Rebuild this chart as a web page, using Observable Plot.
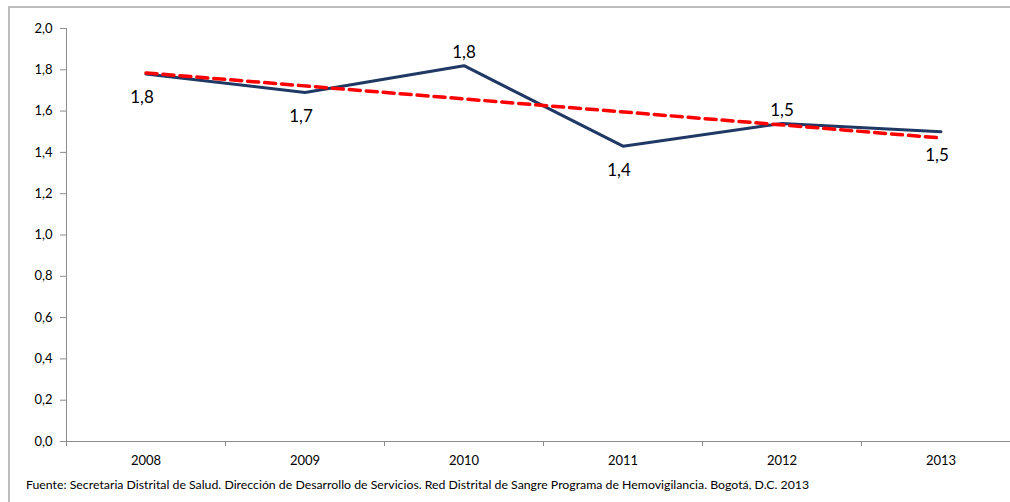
<!DOCTYPE html>
<html>
<head>
<meta charset="utf-8">
<script src="https://cdn.jsdelivr.net/npm/d3@7"></script>
<script src="https://cdn.jsdelivr.net/npm/@observablehq/plot@0.6"></script>
<style>
  html, body { margin: 0; padding: 0; background: #fff; overflow: hidden; }
  #wrap { position: relative; width: 1010px; height: 502px; overflow: hidden; font-family: Lato, "Open Sans", sans-serif; }
  #frame { position: absolute; left: 8px; top: 6px; width: 1100px; height: 600px; border: 2px solid #bdbdbd; box-sizing: border-box; pointer-events: none; }
  #chart { position: absolute; left: 0; top: 0; }
  #caption { position: absolute; left: 26px; top: 477px; font-size: 12.3px; color: #000; white-space: nowrap; }
</style>
</head>
<body>
<div id="wrap">
  <div id="chart"></div>
  <div id="caption"></div>
  <div id="frame"></div>
</div>
<script>
// Data
const years = [2008, 2009, 2010, 2011, 2012, 2013];
const values = [1.78, 1.69, 1.82, 1.43, 1.54, 1.50];
const trendYears = [2008, 2013];
const trendValues = [1.785, 1.47];
const yTicks = [0, 0.2, 0.4, 0.6, 0.8, 1.0, 1.2, 1.4, 1.6, 1.8, 2.0];
const boundaryTicks = [2007.5, 2008.5, 2009.5, 2010.5, 2011.5, 2012.5, 2013.5];
const captionText = "Fuente: Secretaria Distrital de Salud. Dirección de Desarrollo de Servicios. Red Distrital de Sangre Programa de Hemovigilancia. Bogotá, D.C. 2013";

const series = years.map((y, i) => ({year: y, value: values[i]}));
const trend = trendYears.map((y, i) => ({year: y, value: trendValues[i]}));
const comma = d => d.toFixed(1).replace(".", ",");

// label above interior local maxima, below otherwise
const isPeak = (i) => i > 0 && i < values.length - 1 && values[i] > values[i - 1] && values[i] > values[i + 1];
const above = series.filter((d, i) => isPeak(i));
const below = series.filter((d, i) => !isPeak(i));

const gray = "#8c8c8c";

const chart = Plot.plot({
  width: 1010,
  height: 470,
  marginTop: 28,
  marginBottom: 29,
  marginLeft: 66,
  marginRight: 0,
  style: {background: "transparent", fontFamily: "Lato, 'Open Sans', sans-serif", overflow: "hidden"},
  x: {type: "linear", domain: [2007.5, 2013.5], range: [66, 1020]},
  y: {domain: [0, 2.0]},
  marks: [
    Plot.axisY({ticks: yTicks, tickFormat: comma, tickSize: 6, tickPadding: 8, stroke: gray, fontSize: 13, color: "#000", label: null}),
    Plot.ruleX([2007.5], {y1: 0, y2: 2.0, stroke: gray, strokeWidth: 1}),
    Plot.axisX({ticks: boundaryTicks, tickSize: 5, tickFormat: () => "", stroke: gray, label: null}),
    Plot.axisX({ticks: years, tickSize: 0, tickPadding: 14, tickFormat: d => String(d), fontSize: 13, label: null}),
    Plot.ruleY([0], {stroke: gray, strokeWidth: 1}),
    Plot.line(series, {x: "year", y: "value", stroke: "#1f3864", strokeWidth: 3}),
    Plot.line(trend, {x: "year", y: "value", stroke: "#ff0000", strokeWidth: 3.5, strokeDasharray: "11,6"}),
    Plot.text(above, {x: "year", y: "value", text: d => comma(d.value), dy: -13, fontSize: 17, fill: "#000"}),
    Plot.text(below, {x: "year", y: "value", text: d => comma(d.value), dy: 24, dx: -4, fontSize: 17, fill: "#000"})
  ]
});
document.getElementById("chart").appendChild(chart);
document.getElementById("caption").textContent = captionText;
</script>
</body>
</html>
